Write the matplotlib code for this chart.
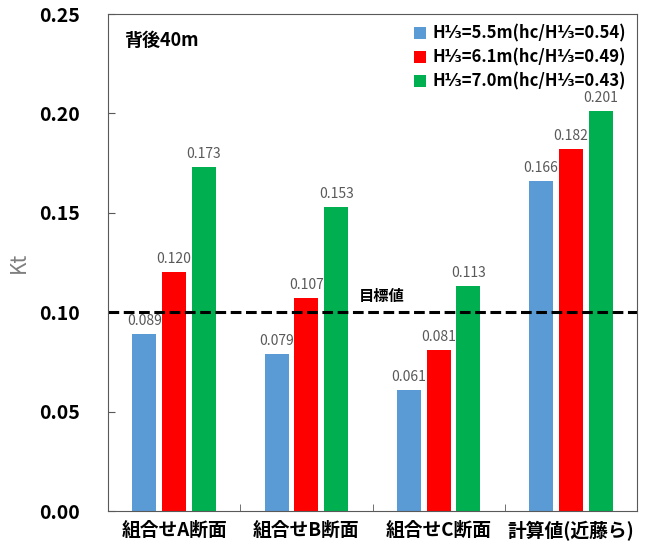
import numpy as np
import matplotlib.pyplot as plt

plt.rcParams['font.family'] = ['Noto Sans CJK JP', 'DejaVu Sans']

categories = ['組合せA断面', '組合せB断面', '組合せC断面', '計算値(近藤ら)']
series_names = ['H⅓=5.5m(hc/H⅓=0.54)', 'H⅓=6.1m(hc/H⅓=0.49)', 'H⅓=7.0m(hc/H⅓=0.43)']
kt_55 = [0.089, 0.079, 0.061, 0.166]
kt_61 = [0.120, 0.107, 0.081, 0.182]
kt_70 = [0.173, 0.153, 0.113, 0.201]
target = 0.10
colors = ['#5B9BD5', '#FF0000', '#00B050']

fig = plt.figure(figsize=(6.48, 5.5), dpi=100)
ax = fig.add_axes([0.1667, 0.0709, 0.8163, 0.9036])

x = np.arange(len(categories))
w = 0.18
gap = 0.045
for i, (vals, name, c) in enumerate(zip([kt_55, kt_61, kt_70], series_names, colors)):
    pos = x + (i - 1) * (w + gap)
    ax.bar(pos, vals, width=w, color=c, label=name)
    for p, v in zip(pos, vals):
        ax.text(p, v + 0.003, f'{v:.3f}', ha='center', va='bottom', fontsize=10, color='#595959')

ax.axhline(target, color='black', linestyle=(0, (3.5, 1.5)), linewidth=2.2)
ax.text(1.57, target + 0.004, '目標値', ha='center', va='bottom', fontsize=11, fontweight='bold')
ax.text(0.03, 0.965, '背後40m', transform=ax.transAxes, ha='left', va='top', fontsize=13, fontweight='bold')

ax.set_xlim(-0.5, len(categories) - 0.5)
ax.set_ylim(0, 0.25)
ax.set_yticks(np.arange(0, 0.26, 0.05))
ax.set_yticklabels([f'{t:.2f}' for t in np.arange(0, 0.26, 0.05)], fontsize=14, fontweight='bold')
ax.set_xticks(x)
ax.set_xticklabels(categories, fontsize=13.5, fontweight='bold')
ax.tick_params(axis='x', length=0, pad=7)
ax.set_xticks(np.arange(0.5, len(categories) - 0.5), minor=True)
ax.tick_params(axis='x', which='minor', direction='in', length=5, color='#595959')
ax.tick_params(axis='y', direction='in', length=5, color='#595959', pad=20)
ax.set_ylabel('Kt', fontsize=15, color='#7f7f7f')
ax.yaxis.set_label_coords(-0.148, 0.5)
for s in ax.spines.values():
    s.set_color('#595959')

ax.legend(loc='upper right', frameon=False, prop={'weight': 'bold', 'size': 12},
          handlelength=0.7, handleheight=0.7, handletextpad=0.4, labelspacing=0.35,
          borderaxespad=0.25)

fig.savefig('out.png', dpi=100)
